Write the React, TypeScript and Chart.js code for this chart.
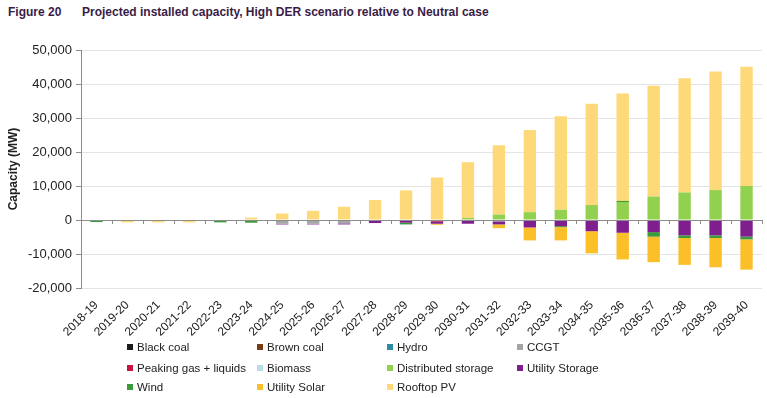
import React, { useEffect, useRef } from "react";
import { Chart, registerables } from "chart.js";

Chart.register(...registerables);

const categories = ["2018-19","2019-20","2020-21","2021-22","2022-23","2023-24","2024-25","2025-26","2026-27","2027-28","2028-29","2029-30","2030-31","2031-32","2032-33","2033-34","2034-35","2035-36","2036-37","2037-38","2038-39","2039-40"];

const blackCoal   = [0,0,0,0,0,0,0,0,-300,0,0,0,0,0,0,0,0,0,0,0,0,0];
const brownCoal   = [0,0,0,0,0,0,0,0,0,0,0,0,0,0,0,0,0,0,0,0,0,0];
const hydro       = [0,0,0,0,0,0,0,0,0,0,0,0,0,0,0,0,0,0,0,0,0,0];
const ccgt        = [0,0,0,0,0,0,-1100,-1100,-700,0,0,0,0,-400,0,0,0,0,0,0,0,0];
const peakingGas  = [0,0,0,0,0,0,0,0,0,0,0,-500,-300,0,0,0,0,0,0,0,0,0];
const biomass     = [0,0,0,0,0,0,0,0,0,0,0,0,0,0,0,0,0,0,0,0,0,0];
const distStorage = [0,0,0,0,0,0,0,0,0,0,0,0,600,1600,2300,3000,4400,5300,6900,8100,8800,10000];
const utilStorage = [0,0,0,0,0,0,-200,-200,-300,-900,-800,-600,-800,-900,-2200,-1800,-3300,-3750,-3550,-4500,-4500,-4900];
const wind        = [-600,0,0,0,-700,-800,0,0,0,0,-500,0,0,0,0,-300,0,300,-1350,-800,-800,-800];
const utilSolar   = [0,0,0,0,0,0,0,0,0,0,0,-300,0,-1100,-3800,-3900,-6500,-7850,-7500,-7900,-8600,-8900];
const rooftopPV   = [0,-700,-700,-700,0,700,1900,2700,3900,5900,8700,12500,16400,20400,24200,27500,29800,31600,32600,33600,34900,35100];

const yTicks = [50000, 40000, 30000, 20000, 10000, 0, -10000, -20000];

const series = [
  { label: "Black coal", data: blackCoal, color: "#1c1c1c" },
  { label: "Brown coal", data: brownCoal, color: "#7a3a12" },
  { label: "Hydro", data: hydro, color: "#2b8ca3" },
  { label: "CCGT", data: ccgt, color: "#a5a5a5" },
  { label: "Peaking gas + liquids", data: peakingGas, color: "#c8143c" },
  { label: "Biomass", data: biomass, color: "#b9dcea" },
  { label: "Distributed storage", data: distStorage, color: "#92d050" },
  { label: "Utility Storage", data: utilStorage, color: "#7f1f8e" },
  { label: "Wind", data: wind, color: "#3b9a3b" },
  { label: "Utility Solar", data: utilSolar, color: "#fbbf2a" },
  { label: "Rooftop PV", data: rooftopPV, color: "#fdd979" },
];

const FONT = "'Liberation Sans', Arial, sans-serif";

const zeroLinePlugin = {
  id: "zeroLine",
  afterDatasetsDraw(chart: any) {
    const { ctx, chartArea, scales } = chart;
    const y0 = scales.y.getPixelForValue(0);
    const n = categories.length;
    const w = (chartArea.right - chartArea.left) / n;
    ctx.save();
    ctx.strokeStyle = "#8c8c8c";
    ctx.lineWidth = 1;
    ctx.beginPath();
    ctx.moveTo(chartArea.left, Math.round(y0) + 0.5);
    ctx.lineTo(chartArea.right, Math.round(y0) + 0.5);
    for (let i = 1; i <= n; i++) {
      const x = Math.round(chartArea.left + i * w) + 0.5;
      ctx.moveTo(x, Math.round(y0));
      ctx.lineTo(x, Math.round(y0) + 4);
    }
    ctx.stroke();
    ctx.restore();
  },
};

export default function App() {
  const ref = useRef<HTMLCanvasElement | null>(null);

  useEffect(() => {
    if (!ref.current) return;
    const chart = new Chart(ref.current, {
      type: "bar",
      data: {
        labels: categories,
        datasets: series.map((s) => ({
          label: s.label,
          data: s.data,
          backgroundColor: s.color,
          borderWidth: 0,
          categoryPercentage: 1,
          barPercentage: 0.4,
        })),
      },
      options: {
        animation: false,
        responsive: false,
        maintainAspectRatio: false,
        layout: { padding: { left: 0, right: 5, top: 20, bottom: 0 } },
        plugins: {
          legend: { display: false },
          tooltip: { enabled: false },
          title: { display: false },
        },
        scales: {
          x: {
            stacked: true,
            grid: { display: false },
            border: { display: false },
            ticks: {
              minRotation: 45,
              maxRotation: 45,
              autoSkip: false,
              color: "#222",
              font: { family: FONT, size: 12 },
              padding: 2,
            },
            afterFit: (s: any) => { s.height = 52; },
          },
          y: {
            stacked: true,
            min: -20000,
            max: 50000,
            afterBuildTicks: (s: any) => { s.ticks = yTicks.map((v) => ({ value: v })); },
            ticks: {
              color: "#222",
              font: { family: FONT, size: 13 },
              padding: 4,
              callback: (v: any) => {
                const n = Number(v);
                const str = Math.abs(n).toLocaleString("en-US");
                return n < 0 ? "-" + str : str;
              },
            },
            grid: {
              color: "#e4e4e4",
              tickColor: "#8c8c8c",
              tickLength: 5,
              lineWidth: 1,
            },
            border: { color: "#8c8c8c" },
            title: {
              display: true,
              text: "Capacity (MW)",
              color: "#222",
              font: { family: FONT, size: 12, weight: "bold" },
              padding: { top: 6, bottom: 0 },
            },
            afterFit: (s: any) => { s.width = 81; },
          },
        },
      },
      plugins: [zeroLinePlugin],
    });
    return () => chart.destroy();
  }, []);

  const colX = [127, 257, 387, 517];
  const rowY = [347, 368, 387];

  return (
    <div style={{ position: "fixed", left: 0, top: 0, width: 767, height: 398, background: "#fff", fontFamily: FONT }}>
      <div style={{ position: "absolute", left: 8, top: 5, fontSize: 12, fontWeight: "bold", color: "#3a1c47", whiteSpace: "nowrap" }}>Figure 20</div>
      <div style={{ position: "absolute", left: 82, top: 5, fontSize: 12, fontWeight: "bold", color: "#3a1c47", whiteSpace: "nowrap" }}>
        Projected installed capacity, High DER scenario relative to Neutral case
      </div>
      <canvas ref={ref} width={767} height={310} style={{ position: "absolute", left: 0, top: 30, width: 767, height: 310 }} />
      {series.map((s, i) => {
        const col = i % 4;
        const row = Math.floor(i / 4);
        return (
          <div key={s.label} style={{ position: "absolute", left: colX[col], top: rowY[row] - 8, height: 16, display: "flex", alignItems: "center", whiteSpace: "nowrap", fontSize: 11.5, color: "#222" }}>
            <span style={{ display: "inline-block", width: 6, height: 6, background: s.color, marginRight: 4 }} />
            <span>{s.label}</span>
          </div>
        );
      })}
    </div>
  );
}
